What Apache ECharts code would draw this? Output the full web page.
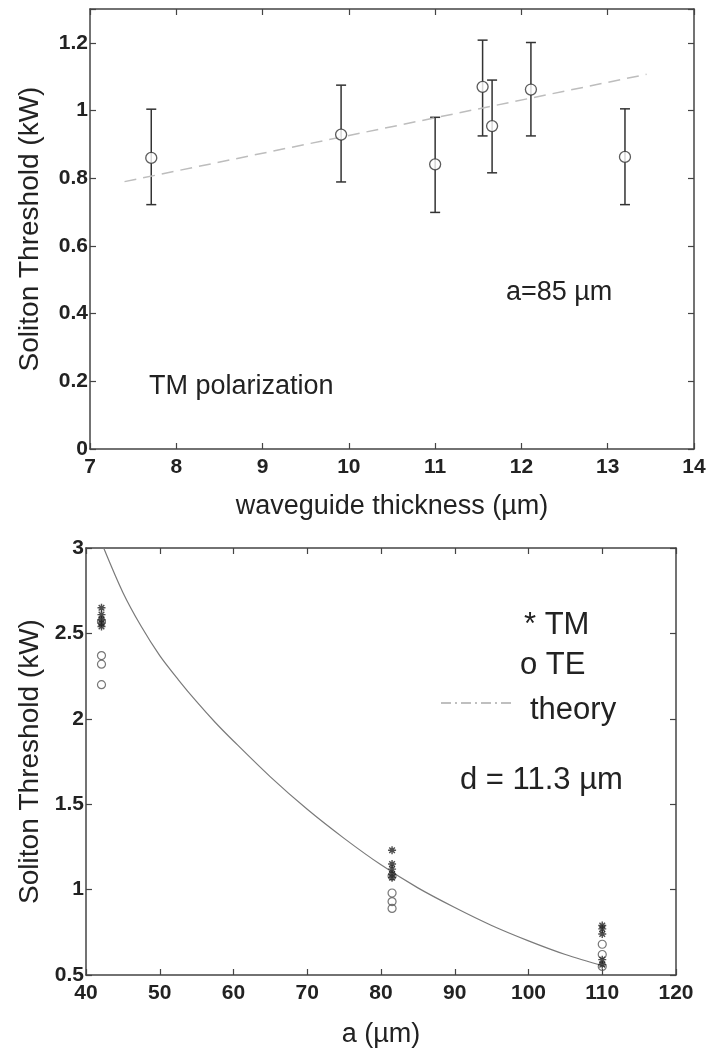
<!DOCTYPE html>
<html>
<head>
<meta charset="utf-8">
<script src="https://cdn.jsdelivr.net/npm/echarts@6/dist/echarts.min.js"></script>
<style>
  html, body { margin: 0; padding: 0; background: #fff; }
  #chart { width: 710px; height: 1055px; }
</style>
</head>
<body>
<div id="chart"></div>
<script>
// Upper panel: threshold vs waveguide thickness (TM polarization, a = 85 µm)
const thickness = [7.71, 9.91, 11.0, 11.55, 11.66, 12.11, 13.2];
const threshold = [0.86, 0.929, 0.841, 1.07, 0.954, 1.062, 0.863];
const errLow    = [0.722, 0.789, 0.699, 0.925, 0.816, 0.925, 0.722];
const errHigh   = [1.004, 1.075, 0.98, 1.208, 1.09, 1.201, 1.005];
const fitThickness = [7.4, 13.45];
const fitThreshold = [0.79, 1.107];

// Lower panel: threshold vs a (d = 11.3 µm)
const tmA = [42.1, 42.1, 42.1, 42.1, 42.1, 81.5, 81.5, 81.5, 81.5, 81.5, 110, 110, 110, 110, 110];
const tmThreshold = [2.65, 2.61, 2.58, 2.56, 2.54, 1.23, 1.15, 1.12, 1.09, 1.07, 0.79, 0.77, 0.74, 0.59, 0.56];
const teA = [42.1, 42.1, 42.1, 42.1, 81.5, 81.5, 81.5, 81.5, 110, 110, 110];
const teThreshold = [2.57, 2.37, 2.32, 2.20, 1.08, 0.98, 0.93, 0.89, 0.68, 0.62, 0.55];
const theoryA = [42.4, 45, 47.5, 50, 52.5, 55, 57.5, 60, 65, 70, 75, 80, 85, 90, 95, 100, 105, 110.4];
const theoryThreshold = [3.0, 2.74, 2.54, 2.37, 2.23, 2.10, 1.98, 1.87, 1.66, 1.47, 1.30, 1.145, 1.01, 0.895, 0.79, 0.70, 0.62, 0.55];

const FONT = '"Liberation Sans", Arial, Helvetica, sans-serif';
const AXIS = '#444';
const INK = '#222';

const zip = (xs, ys) => xs.map((x, i) => [x, ys[i]]);

// show only labels that fall on the nominal step (hides the appended max tick)
function tickLabel(step, digits) {
  return function (v) {
    const r = Math.round(v / step);
    if (Math.abs(r * step - v) > 1e-6) return '';
    return String(+(r * step).toFixed(digits));
  };
}

const lineStyle = { color: AXIS, width: 1.5 };
const tickStyle = { show: true, inside: true, length: 6, lineStyle: { color: AXIS, width: 1.2 } };

function mainX(grid, min, max, interval, name, nameGap) {
  return {
    type: 'value', gridIndex: grid, min, max, interval, position: 'bottom',
    name, nameLocation: 'middle', nameGap,
    nameTextStyle: { fontFamily: FONT, fontSize: 27, color: INK },
    axisLine: { show: true, onZero: false, lineStyle },
    axisTick: tickStyle,
    axisLabel: { fontFamily: FONT, fontSize: 21, fontWeight: 'bold', color: INK, margin: 8 },
    splitLine: { show: false }
  };
}
function mainY(grid, min, max, interval, nameGap, fmt) {
  return {
    type: 'value', gridIndex: grid, min, max, interval, position: 'left',
    name: 'Soliton Threshold (kW)', nameLocation: 'middle', nameGap,
    nameTextStyle: { fontFamily: FONT, fontSize: 28, color: INK },
    axisLine: { show: true, onZero: false, lineStyle },
    axisTick: tickStyle,
    axisLabel: { fontFamily: FONT, fontSize: 21, fontWeight: 'bold', color: INK, margin: 2, formatter: fmt },
    splitLine: { show: false }
  };
}
function frameX(grid, min, max, interval) {
  return {
    type: 'value', gridIndex: grid, min, max, interval, position: 'top',
    axisLine: { show: true, onZero: false, lineStyle },
    axisTick: tickStyle,
    axisLabel: { show: false }, splitLine: { show: false }
  };
}
function frameY(grid, min, max, interval) {
  return {
    type: 'value', gridIndex: grid, min, max, interval, position: 'right',
    axisLine: { show: true, onZero: false, lineStyle },
    axisTick: tickStyle,
    axisLabel: { show: false }, splitLine: { show: false }
  };
}

const asterisk = 'path://M5,0L5,10M0,5L10,5M1.5,1.5L8.5,8.5M1.5,8.5L8.5,1.5';

const chart = echarts.init(document.getElementById('chart'), null, { renderer: 'canvas' });

chart.setOption({
  backgroundColor: '#fff',
  animation: false,
  grid: [
    { left: 90, top: 9, width: 604, height: 440 },
    { left: 86, top: 548, width: 590, height: 427 }
  ],
  xAxis: [
    mainX(0, 7, 14, 1, 'waveguide thickness (\u00b5m)', 44),
    mainX(1, 40, 120, 10, 'a (\u00b5m)', 46),
    frameX(0, 7, 14, 1),
    frameX(1, 40, 120, 10)
  ],
  yAxis: [
    mainY(0, 0, 1.3, 0.2, 46, tickLabel(0.2, 1)),
    mainY(1, 0.5, 3, 0.5, 42, tickLabel(0.5, 1)),
    frameY(0, 0, 1.3, 0.2),
    frameY(1, 0.5, 3, 0.5)
  ],
  series: [
    {
      name: 'fit', type: 'line', xAxisIndex: 0, yAxisIndex: 0,
      data: zip(fitThickness, fitThreshold), symbol: 'none',
      lineStyle: { color: '#bdbdbd', width: 1.5, type: [12, 7] }
    },
    {
      name: 'error', type: 'custom', xAxisIndex: 0, yAxisIndex: 0,
      data: thickness.map((t, i) => [t, errLow[i], errHigh[i]]),
      encode: { x: 0, y: [1, 2] },
      renderItem: function (params, api) {
        const lo = api.coord([api.value(0), api.value(1)]);
        const hi = api.coord([api.value(0), api.value(2)]);
        const w = 5;
        const st = { stroke: '#333', lineWidth: 1.5 };
        return {
          type: 'group',
          children: [
            { type: 'line', shape: { x1: lo[0], y1: lo[1], x2: hi[0], y2: hi[1] }, style: st },
            { type: 'line', shape: { x1: hi[0] - w, y1: hi[1], x2: hi[0] + w, y2: hi[1] }, style: st },
            { type: 'line', shape: { x1: lo[0] - w, y1: lo[1], x2: lo[0] + w, y2: lo[1] }, style: st }
          ]
        };
      },
      z: 3
    },
    {
      name: 'TM measured', type: 'scatter', xAxisIndex: 0, yAxisIndex: 0,
      data: zip(thickness, threshold), symbol: 'circle', symbolSize: 11,
      itemStyle: { color: '#fff', borderColor: '#333', borderWidth: 1.3 }, z: 4
    },
    {
      name: 'theory', type: 'line', xAxisIndex: 1, yAxisIndex: 1,
      data: zip(theoryA, theoryThreshold), symbol: 'none', smooth: 0.3,
      lineStyle: { color: '#7a7a7a', width: 1.2 }
    },
    {
      name: 'TE', type: 'scatter', xAxisIndex: 1, yAxisIndex: 1,
      data: zip(teA, teThreshold), symbol: 'circle', symbolSize: 8,
      itemStyle: { color: 'rgba(255,255,255,0)', borderColor: '#555', borderWidth: 1.2 }, z: 4
    },
    {
      name: 'TM', type: 'scatter', xAxisIndex: 1, yAxisIndex: 1,
      data: zip(tmA, tmThreshold), symbol: asterisk, symbolSize: 8,
      itemStyle: { color: 'none', borderColor: '#222', borderWidth: 1.4 }, z: 5
    }
  ],
  graphic: [
    { type: 'text', left: 506, top: 279, style: { text: 'a=85 \u00b5m', font: '27px ' + FONT, fill: INK } },
    { type: 'text', left: 149, top: 373, style: { text: 'TM polarization', font: '27px ' + FONT, fill: INK } },
    { type: 'text', left: 524, top: 610, style: { text: '* TM', font: '31px ' + FONT, fill: INK } },
    { type: 'text', left: 520, top: 650, style: { text: 'o TE', font: '31px ' + FONT, fill: INK } },
    { type: 'line', shape: { x1: 441, y1: 703, x2: 512, y2: 703 },
      style: { stroke: '#aaa', lineWidth: 1.3, lineDash: [10, 4, 2, 4] } },
    { type: 'text', left: 530, top: 695, style: { text: 'theory', font: '31px ' + FONT, fill: INK } },
    { type: 'text', left: 460, top: 765, style: { text: 'd = 11.3 \u00b5m', font: '31px ' + FONT, fill: INK } }
  ]
});
</script>
</body>
</html>
